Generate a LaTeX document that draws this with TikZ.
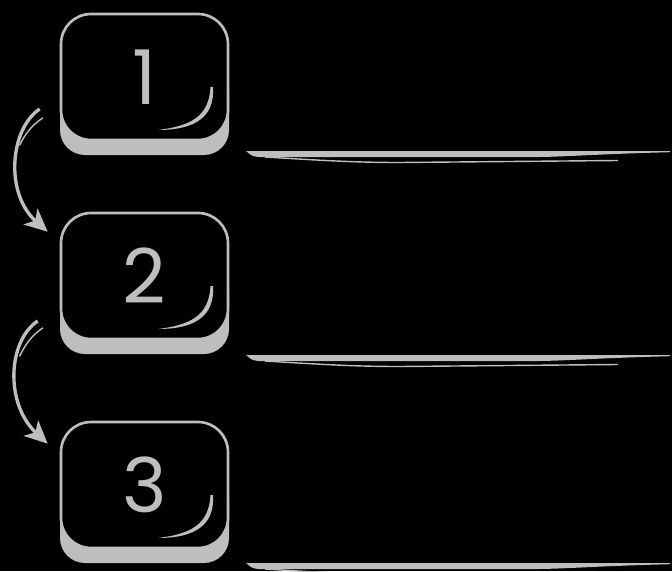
\documentclass[tikz,border=0pt]{standalone}
\usepackage{fontspec}
\newfontfamily\gombfont{Poppins}
\usetikzlibrary{arrows.meta,calc}
\definecolor{szurke}{RGB}{190,190,190}
\tikzset{
  gomb/.style={draw=szurke,line width=1.5pt,fill=black,rounded corners=0.6cm,inner sep=0pt,
               minimum width=3.34cm,minimum height=2.52cm,text=szurke,
               font=\gombfont\fontsize{43}{43}\selectfont},
  arnyek/.style={fill=szurke,rounded corners=0.5cm},
  feny/.style={fill=szurke},
  vonal/.style={fill=szurke},
  ivnyil/.style={draw=szurke,line width=1.9pt,-{Stealth[length=13pt,width=12pt,inset=3.5pt]}},
  vekony/.style={draw=szurke,line width=0.8pt,line cap=round},
}
\begin{document}
\begin{tikzpicture}[x=0.02cm,y=-0.02cm]
  \useasboundingbox (0,0) rectangle (672,571);
  \fill[black] (0,0) rectangle (672,571);
  % gombok es vonalak
  \foreach \n/\y/\l in {1/77/151,2/276/355,3/485/563} {
    \fill[arnyek] (60,\y-10) rectangle (229,\y+78);
    \node[gomb] (k\n) at (144.5,\y) {\n};
    \fill[feny] (213,\y+10) .. controls (215,\y+40) and (195,\y+53) .. (158,\y+53)
      .. controls (190,\y+49) and (209,\y+40) .. (210.5,\y+10) -- cycle;
    \fill[vonal] (246,\l) -- (670,\l) -- (670,\l+1.2) .. controls (600,\l+3) and (570,\l+5.5)
      .. (540,\l+6) -- (258,\l+6) .. controls (252,\l+5) .. cycle;
    \draw[szurke,line width=0.8pt] (265,\l+6) .. controls (330,\l+10) and (360,\l+11.5)
      .. (400,\l+11.5) -- (618,\l+9.5);
  }
  % nyilak
  \draw[ivnyil] ([shift={(-20,32)}]k1.west) .. controls +(-30,20) and +(-43,-38)
    .. ([shift={(-12,20)}]k2.north west);
  \draw[vekony] ([shift={(-17,41)}]k1.west) .. controls +(-12,8) and +(5,-10)
    .. ([shift={(-40,68)}]k1.west);
  \draw[ivnyil] ([shift={(-22,45)}]k2.west) .. controls +(-30,20) and +(-43,-40)
    .. ([shift={(-12,23)}]k3.north west);
  \draw[vekony] ([shift={(-17,52)}]k2.west) .. controls +(-12,8) and +(5,-10)
    .. ([shift={(-40,80)}]k2.west);
\end{tikzpicture}
\end{document}
